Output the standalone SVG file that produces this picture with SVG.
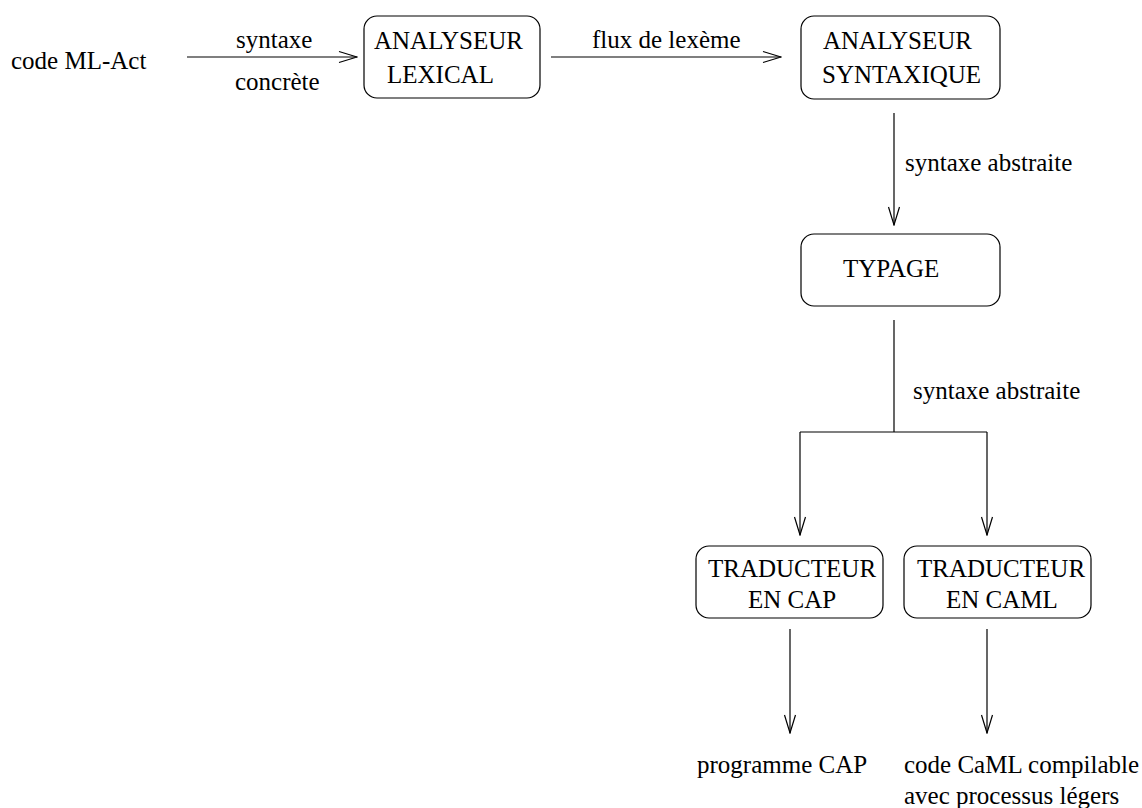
<svg xmlns="http://www.w3.org/2000/svg" width="1142" height="808" viewBox="0 0 1142 808">
<style>
text{font-family:"Liberation Serif","Times New Roman",serif;font-size:25px;fill:#000}
.box{fill:#fff;stroke:#000;stroke-width:1.2}
.c line,.c path{stroke:#000;stroke-width:1.2;fill:none}
</style>
<defs>
<marker id="ah" viewBox="0 0 20 14" refX="19" refY="7" markerWidth="20" markerHeight="14" markerUnits="userSpaceOnUse" orient="auto">
<path d="M1,1.5 L19,7 L1,12.5" fill="none" stroke="#000" stroke-width="1.2"/>
</marker>
</defs>
<rect width="1142" height="808" fill="#fff"/>
<g id="connectors" class="c">
<line x1="187" y1="57" x2="357" y2="57" marker-end="url(#ah)"/>
<line x1="551" y1="57" x2="781" y2="57" marker-end="url(#ah)"/>
<line x1="894" y1="113" x2="894" y2="225" marker-end="url(#ah)"/>
<path d="M894,320 V432"/>
<path d="M800,432 H987"/>
<line x1="800" y1="432" x2="800" y2="535" marker-end="url(#ah)"/>
<line x1="987" y1="432" x2="987" y2="535" marker-end="url(#ah)"/>
<line x1="790" y1="629" x2="790" y2="733" marker-end="url(#ah)"/>
<line x1="987" y1="629" x2="987" y2="733" marker-end="url(#ah)"/>
</g>
<g id="labels">
<text x="236" y="48">syntaxe</text>
<text x="235" y="90">concrète</text>
<text x="592" y="48">flux de lexème</text>
<text x="905" y="171">syntaxe abstraite</text>
<text x="913" y="399">syntaxe abstraite</text>
</g>
<g id="src"><text x="11" y="69">code ML-Act</text></g>
<g id="lexical">
<rect class="box" x="364" y="16" width="176" height="82" rx="13"/>
<text x="374" y="49">ANALYSEUR</text>
<text x="387" y="83">LEXICAL</text>
</g>
<g id="syntaxique">
<rect class="box" x="801" y="16" width="199" height="83" rx="13"/>
<text x="823" y="49">ANALYSEUR</text>
<text x="822" y="83">SYNTAXIQUE</text>
</g>
<g id="typage">
<rect class="box" x="801" y="234" width="199" height="72" rx="13"/>
<text x="843" y="277">TYPAGE</text>
</g>
<g id="cap">
<rect class="box" x="696" y="546" width="187" height="72" rx="13"/>
<text x="708" y="577">TRADUCTEUR</text>
<text x="748" y="608">EN CAP</text>
</g>
<g id="caml">
<rect class="box" x="904" y="546" width="187" height="72" rx="13"/>
<text x="917" y="577">TRADUCTEUR</text>
<text x="946" y="608">EN CAML</text>
</g>
<g id="out-cap"><text x="697" y="773">programme CAP</text></g>
<g id="out-caml">
<text x="904" y="773">code CaML compilable</text>
<text x="904" y="804">avec processus légers</text>
</g>
</svg>
